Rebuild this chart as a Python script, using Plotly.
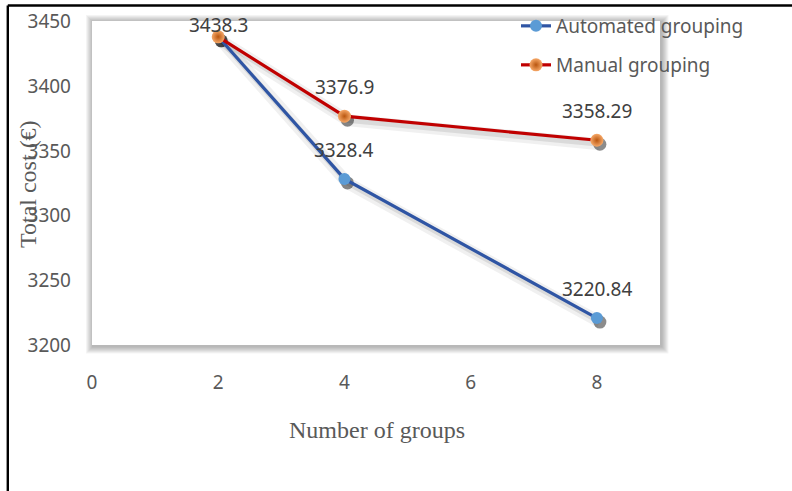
import plotly.graph_objects as go

# ---- data -------------------------------------------------------------
groups = [2, 4, 8]
automated_cost = [3438.3, 3328.4, 3220.84]
manual_cost = [3438.3, 3376.9, 3358.29]
x_ticks = [0, 2, 4, 6, 8]
y_ticks = [3200, 3250, 3300, 3350, 3400, 3450]

# ---- geometry ---------------------------------------------------------
W, H = 792, 491
ML, MR, MT, MB = 92, 132, 21, 146
PW, PH = W - ML - MR, H - MT - MB
X_RANGE = [0, 9]
Y_RANGE = [3200, 3450.5]


def px(x):
    """pixel column -> paper x"""
    return (x - ML) / PW


def py(y):
    """pixel row -> paper y"""
    return (H - MB - y) / PH


# small offset (in data units) used for the drop shadow under the series
SH_DX = 3 * (X_RANGE[1] - X_RANGE[0]) / PW
SH_DY = -4 * (Y_RANGE[1] - Y_RANGE[0]) / PH

TICK_FONT = dict(family="Noto Sans", size=19, color="#595959")
LABEL_FONT = dict(family="Noto Sans", size=19, color="#404040")
TITLE_FONT = dict(family="Liberation Serif", size=24, color="#595959")

BLUE_LINE = "#2F55A4"
BLUE_MARK = "#5B9BD5"
RED_LINE = "#C00000"

fig = go.Figure()

# soft shadows beneath the two series
for ys in (automated_cost, manual_cost):
    sx = [g + SH_DX for g in groups]
    sy = [v + SH_DY for v in ys]
    fig.add_trace(go.Scatter(x=sx, y=sy, mode="lines",
                             line=dict(color="rgba(0,0,0,0.06)", width=12),
                             hoverinfo="skip", showlegend=False))
    fig.add_trace(go.Scatter(x=sx, y=sy, mode="lines+markers",
                             line=dict(color="rgba(0,0,0,0.09)", width=5),
                             marker=dict(size=13, color="rgba(0,0,0,0.45)"),
                             hoverinfo="skip", showlegend=False))

fig.add_trace(go.Scatter(
    x=groups, y=automated_cost, mode="lines+markers", name="Automated grouping",
    line=dict(color=BLUE_LINE, width=3.2),
    marker=dict(size=12, color=BLUE_MARK),
    legend="legend",
))
fig.add_trace(go.Scatter(
    x=groups, y=manual_cost, mode="lines+markers", name="Manual grouping",
    line=dict(color=RED_LINE, width=3.2),
    marker=dict(size=13, color="#F6A868",
                gradient=dict(type="radial", color="#B9560F")),
    legend="legend2",
))

# value labels above each point
annotations = []
seen = set()
for series in (manual_cost, automated_cost):
    for g, v in zip(groups, series):
        if (g, v) in seen:
            continue
        seen.add((g, v))
        shift = 12 if g == groups[0] else 29
        annotations.append(dict(x=g, y=v, xref="x", yref="y", text=f"{v:g}",
                                showarrow=False, yshift=shift,
                                font=LABEL_FONT))

# axis titles
annotations.append(dict(x=px(377), y=py(430), xref="paper", yref="paper",
                        text="Number of groups", showarrow=False,
                        font=TITLE_FONT, xanchor="center", yanchor="middle"))
annotations.append(dict(x=px(28), y=py(184), xref="paper", yref="paper",
                        text="Total cost (€)", showarrow=False, textangle=-90,
                        font=TITLE_FONT, xanchor="center", yanchor="middle"))

# plot-area panel with a blurred drop shadow, plus the outer frame lines
shapes = []
for i in range(7, 0, -1):
    shapes.append(dict(type="rect", xref="paper", yref="paper", layer="below",
                       x0=px(ML - i + 1), x1=px(ML + PW + i + 1.5),
                       y0=py(MT + PH + i + 1.5), y1=py(MT - i + 1),
                       line=dict(width=0), fillcolor="rgba(0,0,0,0.045)"))
shapes.append(dict(type="rect", xref="paper", yref="paper", layer="below",
                   x0=0, x1=1, y0=0, y1=1, line=dict(width=0),
                   fillcolor="white"))
shapes.append(dict(type="line", xref="paper", yref="paper",
                   x0=px(7.8), x1=px(W + 2), y0=py(5.5), y1=py(5.5),
                   line=dict(color="black", width=2.4)))
shapes.append(dict(type="line", xref="paper", yref="paper",
                   x0=px(7.8), x1=px(7.8), y0=py(5.5), y1=py(H + 2),
                   line=dict(color="black", width=2.4)))

legend_common = dict(font=TICK_FONT, bgcolor="rgba(0,0,0,0)", borderwidth=0,
                     xanchor="left", yanchor="middle", itemwidth=30)

fig.update_layout(
    width=W, height=H,
    margin=dict(l=ML, r=MR, t=MT, b=MB, autoexpand=False),
    paper_bgcolor="white", plot_bgcolor="rgba(0,0,0,0)",
    showlegend=True,
    legend=dict(x=px(516), y=py(26), **legend_common),
    legend2=dict(x=px(516), y=py(65), **legend_common),
    xaxis=dict(range=X_RANGE, tickvals=x_ticks, showgrid=False,
               zeroline=False, showline=False, ticks="",
               tickfont=TICK_FONT, ticklabelstandoff=24),
    yaxis=dict(range=Y_RANGE, tickvals=y_ticks, showgrid=False,
               zeroline=False, showline=False, ticks="",
               tickfont=TICK_FONT, ticklabelstandoff=20),
    annotations=annotations,
    shapes=shapes,
)

fig.write_html("out.html")
